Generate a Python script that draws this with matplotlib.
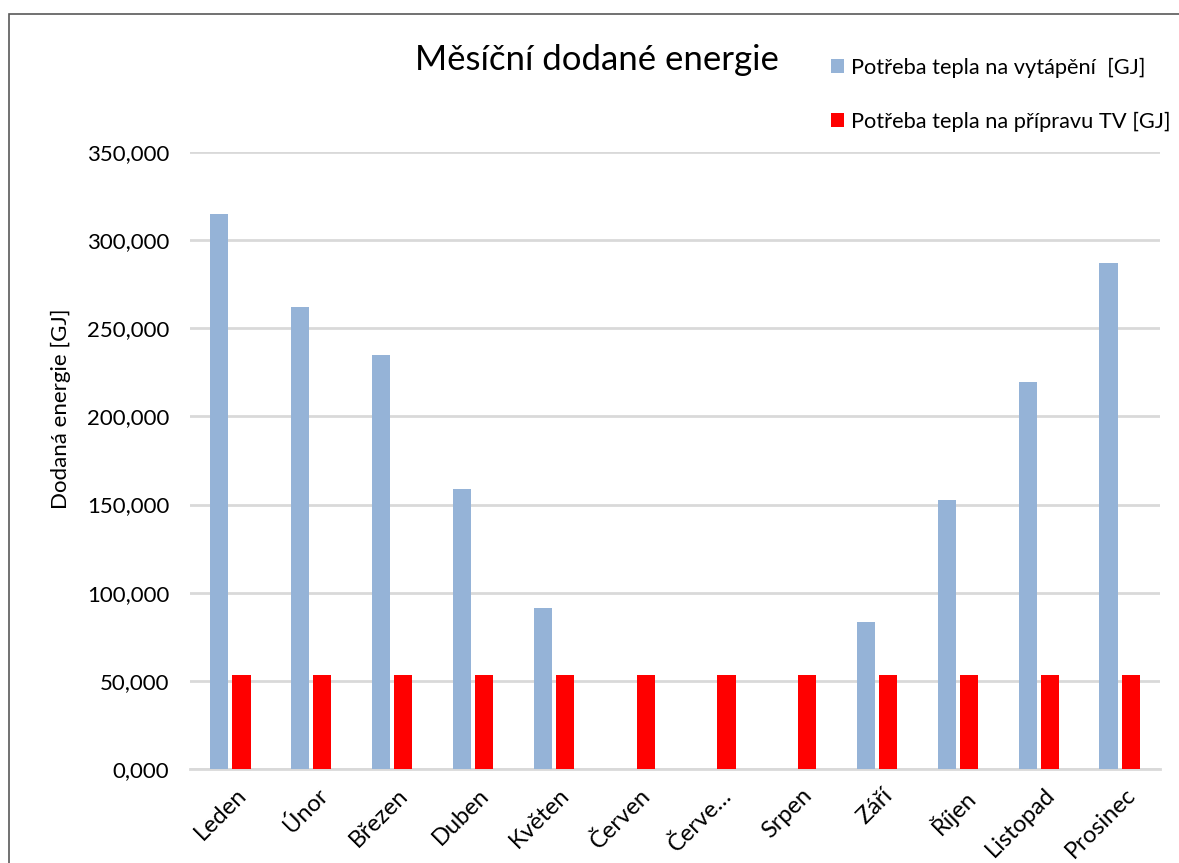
import matplotlib
matplotlib.use("Agg")
import matplotlib.pyplot as plt
import matplotlib.transforms as mtransforms
import numpy as np
from matplotlib.patches import Rectangle

months = ["Leden", "Únor", "Březen", "Duben", "Květen", "Červen", "Červe…",
          "Srpen", "Září", "Říjen", "Listopad", "Prosinec"]
heating = [314.7, 262.0, 234.7, 158.8, 91.3, 0.0, 0.0, 0.0, 83.3, 152.5, 219.4, 286.9]
hot_water = [53.3] * 12
yticks = [0, 50, 100, 150, 200, 250, 300, 350]
ytick_labels = ["0,000", "50,000", "100,000", "150,000", "200,000", "250,000", "300,000", "350,000"]

plt.rcParams['font.family'] = ['Lato', 'DejaVu Sans']

fig = plt.figure(figsize=(11.79, 8.63), dpi=100)
ax = fig.add_axes([190/1179, 1-769/863, 970/1179, (769-152)/863])

x = np.arange(len(months))
w = 0.225
ax.bar(x - 0.137, heating, width=w, color="#95B3D7", label="Potřeba tepla na vytápění  [GJ]", zorder=3)
ax.bar(x + 0.137, hot_water, width=w, color="#FF0000", label="Potřeba tepla na přípravu TV [GJ]", zorder=3)

ax.set_xlim(-0.5, len(months) - 0.5)
ax.set_ylim(0, 350)
ax.set_yticks(yticks)
ax.set_yticklabels(ytick_labels, fontsize=16)
ax.set_xticks(x)
ax.set_xticklabels(months, rotation=45, ha="right", rotation_mode="anchor", fontsize=17)
ax.tick_params(axis='both', length=0)
ax.tick_params(axis='y', pad=15)
ax.tick_params(axis='x', pad=11)
offset = mtransforms.ScaledTranslation(5/100, 0, fig.dpi_scale_trans)
for lbl in ax.get_xticklabels():
    lbl.set_transform(lbl.get_transform() + offset)
ax.grid(axis='y', color="#D9D9D9", linewidth=2, zorder=0)
for s in ["top", "right", "left"]:
    ax.spines[s].set_visible(False)
ax.spines["bottom"].set_color("#D9D9D9")
ax.spines["bottom"].set_linewidth(2)

ax.set_ylabel("Dodaná energie [GJ]", fontsize=16)
ax.yaxis.set_label_coords((71-190)/970, (769-409)/617)

fig.text(597/1179, 1-60/863, "Měsíční dodané energie", ha="center", va="center", fontsize=25)

leg = fig.legend(loc="upper left", bbox_to_anchor=(822/1179, 1-49/863), frameon=False,
                 fontsize=15.7, labelspacing=1.55, handlelength=0.6, handleheight=0.6,
                 handletextpad=0.35, borderaxespad=0)

fig.patches.append(Rectangle((9/1179, -0.1), 1.5, 1-14/863+0.1, transform=fig.transFigure,
                             fill=False, edgecolor="#595959", linewidth=1.2))

fig.savefig("out.png", dpi=100)
